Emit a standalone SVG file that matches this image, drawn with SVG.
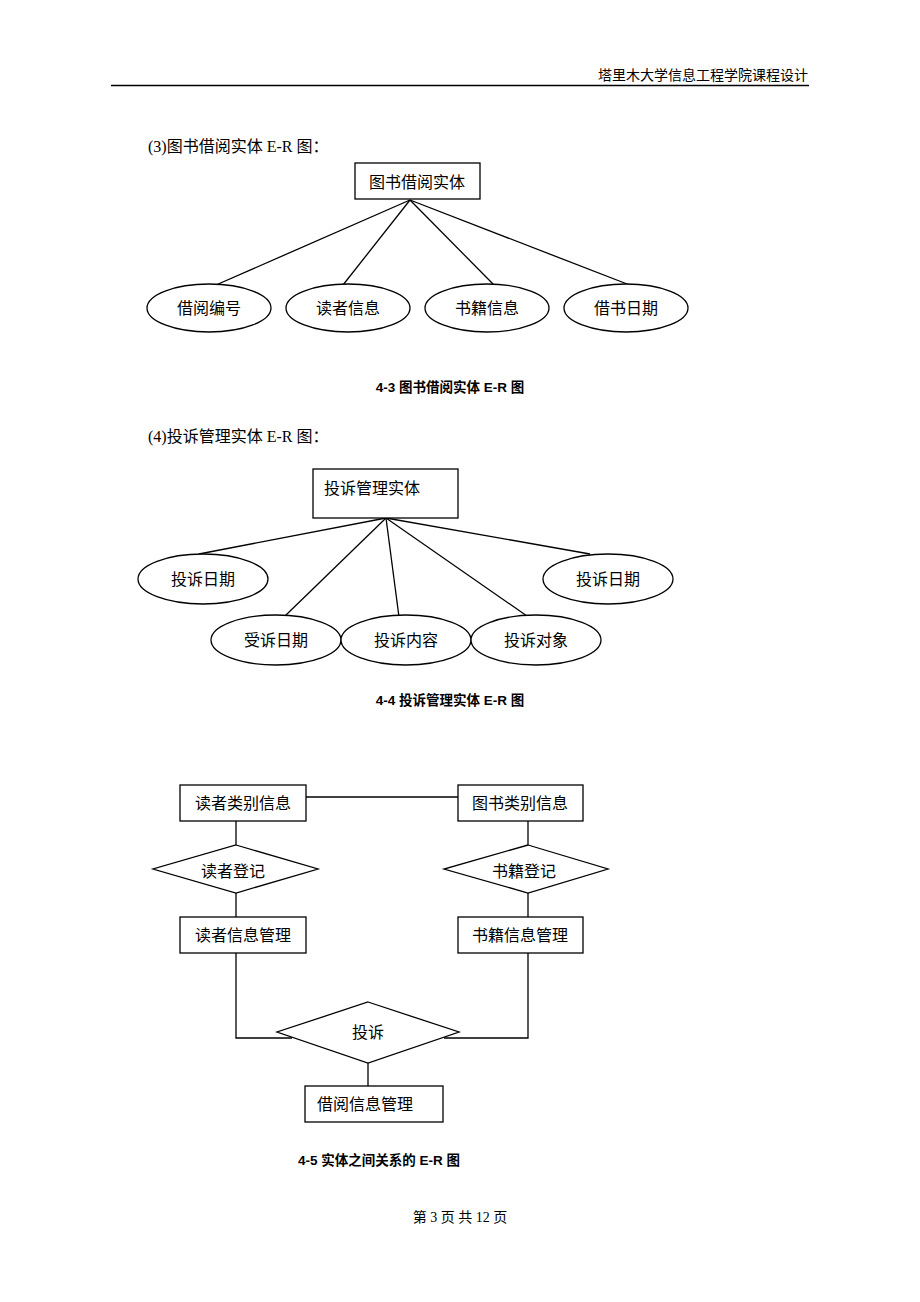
<svg xmlns="http://www.w3.org/2000/svg" width="920" height="1302" viewBox="0 0 920 1302">
<style>
text{font-family:"Liberation Serif","Noto Sans CJK SC",serif;fill:#000}
.n{font-size:16px;text-anchor:middle;dominant-baseline:central}
.nl{font-size:16px;dominant-baseline:central}
.cap{font-size:13.5px;font-weight:bold;font-family:"Liberation Sans","Noto Sans CJK SC",sans-serif}
.b{font-size:16px}
.s{fill:#fff;stroke:#000;stroke-width:1.3}
.c line,.c polyline{stroke:#000;stroke-width:1.3;fill:none}
</style>
<rect width="920" height="1302" fill="#fff"/>
<text x="808" y="80" font-size="14" text-anchor="end">塔里木大学信息工程学院课程设计</text>
<line x1="111" y1="85.5" x2="809" y2="85.5" stroke="#000" stroke-width="1.6"/>
<text class="b" x="148" y="152">(3)图书借阅实体 E-R 图：</text>

<g class="c" id="connectors1">
<line x1="410" y1="200" x2="216" y2="285"/>
<line x1="410" y1="200" x2="343" y2="285"/>
<line x1="410" y1="200" x2="494" y2="285"/>
<line x1="410" y1="200" x2="640" y2="289"/>
</g>
<g id="n_tsjy"><rect class="s" x="355" y="163" width="125" height="36"/><text class="n" x="417" y="182">图书借阅实体</text></g>
<g id="n_jybh"><ellipse class="s" cx="209" cy="308" rx="62" ry="24"/><text class="n" x="209" y="308">借阅编号</text></g>
<g id="n_dzxx"><ellipse class="s" cx="348" cy="308" rx="62" ry="24"/><text class="n" x="348" y="308">读者信息</text></g>
<g id="n_sjxx"><ellipse class="s" cx="487" cy="308" rx="62" ry="24"/><text class="n" x="487" y="308">书籍信息</text></g>
<g id="n_jsrq"><ellipse class="s" cx="626" cy="308" rx="62" ry="24"/><text class="n" x="626" y="308">借书日期</text></g>
<text class="cap" x="450" y="392" text-anchor="middle">4-3 图书借阅实体 E-R 图</text>

<text class="b" x="148" y="442">(4)投诉管理实体 E-R 图：</text>
<g class="c" id="connectors2">
<line x1="386" y1="518" x2="199" y2="554"/>
<line x1="386" y1="518" x2="285" y2="616"/>
<line x1="386" y1="518" x2="399" y2="617"/>
<line x1="386" y1="518" x2="527" y2="616"/>
<line x1="386" y1="518" x2="590" y2="554"/>
</g>
<g id="n_tsgl"><rect class="s" x="313" y="469" width="145" height="49"/><text class="nl" x="324" y="488">投诉管理实体</text></g>
<g id="n_tsrq1"><ellipse class="s" cx="203" cy="579" rx="65" ry="25"/><text class="n" x="203" y="579">投诉日期</text></g>
<g id="n_tsrq2"><ellipse class="s" cx="608" cy="579" rx="65" ry="25"/><text class="n" x="608" y="579">投诉日期</text></g>
<g id="n_ssrq"><ellipse class="s" cx="276" cy="640" rx="65" ry="25"/><text class="n" x="276" y="640">受诉日期</text></g>
<g id="n_tsnr"><ellipse class="s" cx="406" cy="640" rx="65" ry="25"/><text class="n" x="406" y="640">投诉内容</text></g>
<g id="n_tsdx"><ellipse class="s" cx="536" cy="640" rx="65" ry="25"/><text class="n" x="536" y="640">投诉对象</text></g>
<text class="cap" x="450" y="705" text-anchor="middle">4-4 投诉管理实体 E-R 图</text>

<g class="c" id="connectors3">
<line x1="306" y1="797" x2="458" y2="797"/>
<line x1="236" y1="821" x2="236" y2="845"/>
<line x1="236" y1="893" x2="236" y2="917"/>
<line x1="528" y1="821" x2="528" y2="845"/>
<line x1="528" y1="893" x2="528" y2="917"/>
<polyline points="236,953 236,1038 292,1038"/>
<polyline points="528,953 528,1038 444,1038"/>
<line x1="368" y1="1063" x2="368" y2="1086"/>
</g>
<g id="n_dzlb"><rect class="s" x="180" y="785" width="126" height="36"/><text class="n" x="243" y="803">读者类别信息</text></g>
<g id="n_tslb"><rect class="s" x="458" y="785" width="125" height="36"/><text class="n" x="520" y="803">图书类别信息</text></g>
<g id="n_dzdj"><polygon class="s" points="236,845 318,869 236,893 153,869"/><text class="n" x="233" y="871">读者登记</text></g>
<g id="n_sjdj"><polygon class="s" points="528,845 608,869 528,893 444,869"/><text class="n" x="524" y="871">书籍登记</text></g>
<g id="n_dzgl"><rect class="s" x="180" y="917" width="126" height="36"/><text class="n" x="243" y="935">读者信息管理</text></g>
<g id="n_sjgl"><rect class="s" x="458" y="917" width="125" height="36"/><text class="n" x="520" y="935">书籍信息管理</text></g>
<g id="n_ts"><polygon class="s" points="368,1002 459,1032 368,1063 277,1032"/><text class="n" x="368" y="1032">投诉</text></g>
<g id="n_jygl"><rect class="s" x="305" y="1086" width="138" height="36"/><text class="nl" x="317" y="1104">借阅信息管理</text></g>
<text class="cap" x="298" y="1165">4-5 实体之间关系的 E-R 图</text>

<text x="460" y="1222" font-size="14" text-anchor="middle">第 3 页  共 12 页</text>
</svg>
